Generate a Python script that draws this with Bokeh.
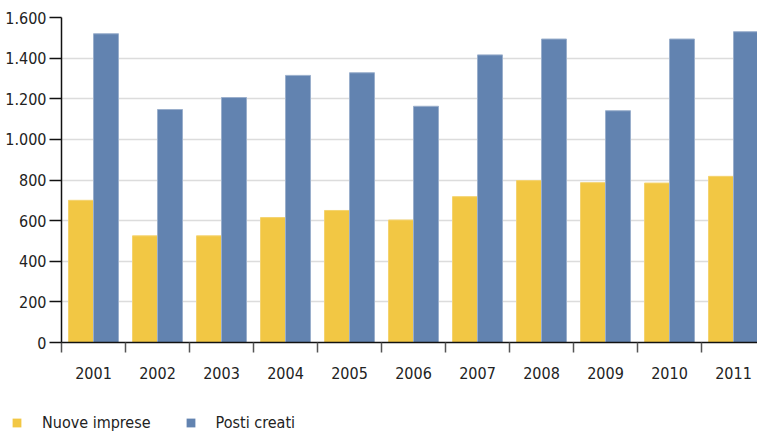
from bokeh.plotting import figure
from bokeh.models import ColumnDataSource, Range1d, FixedTicker, Legend, LegendItem
from bokeh.layouts import column, row
from bokeh.transform import dodge
from bokeh.embed import file_html
from bokeh.resources import INLINE
import numpy as np

years = ["2001", "2002", "2003", "2004", "2005", "2006", "2007", "2008", "2009", "2010", "2011"]
nuove_imprese = [700, 525, 525, 615, 650, 603, 718, 797, 787, 785, 818]
posti_creati = [1520, 1147, 1206, 1315, 1328, 1163, 1416, 1494, 1141, 1494, 1530]
y_ticks = [0, 200, 400, 600, 800, 1000, 1200, 1400, 1600]
y_tick_labels = ["0", "200", "400", "600", "800", "1.000", "1.200", "1.400", "1.600"]
series_names = ["Nuove imprese", "Posti creati"]

FONT = "'DejaVu Sans Condensed', Roboto, sans-serif"
FS = "16px"
YELLOW = "#F2C744"
BLUE = "#6283B0"

idx = np.arange(len(years))
src = ColumnDataSource(dict(x=idx + 0.5, nuove=nuove_imprese, posti=posti_creati))

p = figure(width=757, height=400, output_backend="svg", toolbar_location=None,
           x_range=Range1d(0, 10.875), y_range=Range1d(0, 1600),
           min_border_left=61, min_border_right=0, min_border_top=17, min_border_bottom=58)
p.outline_line_color = None

bw = 25 / 64
r1 = p.vbar(x=dodge("x", -bw / 2, range=p.x_range), top="nuove", width=bw, source=src,
            fill_color=YELLOW, line_color="#f4d36f", line_width=1)
r2 = p.vbar(x=dodge("x", bw / 2, range=p.x_range), top="posti", width=bw, source=src,
            fill_color=BLUE, line_color="#9aafcc", line_width=1)

# X axis: labels at category centres, ticks at category boundaries (minor ticks)
xa = p.xaxis[0]
xa.ticker = FixedTicker(ticks=list(idx + 0.5), minor_ticks=list(range(len(years) + 1)))
xa.major_label_overrides = {float(i + 0.5): y for i, y in enumerate(years)}
xa.major_tick_in = 0
xa.major_tick_out = 0
xa.minor_tick_in = 0
xa.minor_tick_out = 10
xa.minor_tick_line_color = "#555555"
xa.minor_tick_line_width = 1.5
xa.axis_line_color = "#111111"
xa.axis_line_width = 1.5
xa.major_label_standoff = 14
xa.major_label_text_font = FONT
xa.major_label_text_font_size = FS
xa.major_label_text_color = "#222222"

ya = p.yaxis[0]
ya.ticker = FixedTicker(ticks=y_ticks)
ya.major_label_overrides = {t: l for t, l in zip(y_ticks, y_tick_labels)}
ya.major_tick_in = 0
ya.major_tick_out = 12
ya.major_tick_line_color = "#111111"
ya.major_tick_line_width = 1.5
ya.minor_tick_line_color = None
ya.axis_line_color = "#111111"
ya.axis_line_width = 1.5
ya.major_label_standoff = 3
ya.major_label_text_font = FONT
ya.major_label_text_font_size = FS
ya.major_label_text_color = "#222222"

p.xgrid.grid_line_color = None
p.ygrid.grid_line_color = "#dcdcdc"
p.ygrid.grid_line_width = 1.5

# Legend strip underneath the chart (its own small plot; glyph renderers kept out of view)
q = figure(width=757, height=32, output_backend="svg", toolbar_location=None,
           x_range=Range1d(-101, -100), y_range=Range1d(100000, 100001),
           x_axis_location=None, y_axis_location=None,
           min_border_left=0, min_border_right=0, min_border_top=0, min_border_bottom=0)
q.outline_line_color = None
q.grid.grid_line_color = None
q.border_fill_color = "white"
l1 = q.vbar(x="x", top="nuove", width=bw, source=src, fill_color=YELLOW, line_color=None)
l2 = q.vbar(x="x", top="posti", width=bw, source=src, fill_color=BLUE, line_color=None)

legend = Legend(items=[LegendItem(label=series_names[0], renderers=[l1]),
                       LegendItem(label=series_names[1], renderers=[l2])],
                location=(11, 0), orientation="horizontal",
                label_text_font=FONT, label_text_font_size=FS, label_text_color="#222222",
                glyph_width=11, glyph_height=11, label_standoff=20, spacing=34,
                padding=0, margin=0, border_line_color=None, background_fill_alpha=0,
                label_height=20)
q.add_layout(legend, "center")

layout = column(p, row(q), spacing=0)
open("out.html", "w").write(file_html(layout, INLINE))
